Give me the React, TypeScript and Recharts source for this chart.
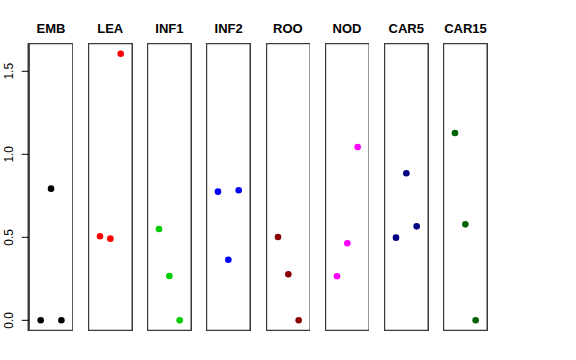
import React from "react";
import { ScatterChart, Scatter, XAxis, YAxis, ReferenceArea } from "recharts";

const tissues = ["EMB", "LEA", "INF1", "INF2", "ROO", "NOD", "CAR5", "CAR15"];
const tissueColors = [
  "#000000", // black
  "#ff0000", // red
  "#00cd00", // green3
  "#0000ff", // blue
  "#8b0000", // darkred
  "#ff00ff", // magenta
  "#000080", // navy
  "#006400", // darkgreen
];

// three replicates per tissue, plotted at x = 1, 2, 3
const embValues = [0, 0.793, 0];
const leaValues = [0.506, 0.492, 1.606];
const inf1Values = [0.55, 0.267, 0];
const inf2Values = [0.775, 0.365, 0.783];
const rooValues = [0.502, 0.277, 0];
const nodValues = [0.265, 0.464, 1.044];
const car5Values = [0.498, 0.886, 0.566];
const car15Values = [1.128, 0.578, 0];

const yTicks = [0, 0.5, 1, 1.5];

const allValues = [
  embValues,
  leaValues,
  inf1Values,
  inf2Values,
  rooValues,
  nodValues,
  car5Values,
  car15Values,
];

// R style axis extension (4% on each side)
const yMax = Math.max(...allValues.flat());
const yDomain: [number, number] = [-0.04 * yMax, yMax * 1.04];
const xDomain: [number, number] = [-0.16, 4.16];

const PANEL_LEFT = 28.7;
const PANEL_STEP = 59.2;
const PANEL_W = 44.7;
const PANEL_TOP = 43;
const PANEL_H = 288;
const AXIS_W = 28.7;
const FONT = "'Liberation Sans', Arial, Helvetica, sans-serif";

function YTick(props: any) {
  const { x, y, payload } = props;
  return (
    <text
      transform={`translate(${x - 6.5}, ${y}) rotate(-90)`}
      textAnchor="middle"
      fontSize={12}
      fontFamily={FONT}
      fill="#000"
    >
      {Number(payload.value).toFixed(1)}
    </text>
  );
}

function Panel({ index }: { index: number }) {
  const withAxis = index === 0;
  const color = tissueColors[index];
  const data = allValues[index].map((v, i) => ({ x: i + 1, y: v }));
  const left = PANEL_LEFT + index * PANEL_STEP - (withAxis ? AXIS_W : 0);
  return (
    <>
      <div
        style={{
          position: "absolute",
          left: PANEL_LEFT + index * PANEL_STEP,
          top: 20,
          width: PANEL_W,
          textAlign: "center",
          fontFamily: FONT,
          fontWeight: "bold",
          fontSize: 13,
          lineHeight: "18px",
        }}
      >
        {tissues[index]}
      </div>
      <div style={{ position: "absolute", left, top: PANEL_TOP }}>
        <ScatterChart
          width={PANEL_W + (withAxis ? AXIS_W : 0)}
          height={PANEL_H}
          margin={{ top: 0, right: 0, bottom: 0, left: 0 }}
        >
          <XAxis
            type="number"
            dataKey="x"
            domain={xDomain}
            allowDataOverflow
            hide
          />
          <YAxis
            type="number"
            dataKey="y"
            domain={yDomain}
            allowDataOverflow
            hide={!withAxis}
            width={AXIS_W}
            ticks={yTicks}
            interval={0}
            axisLine={false}
            tickSize={7}
            tickLine={{ stroke: "#000" }}
            tick={<YTick />}
          />
          {/* panel box; the plot clip keeps only the inner half of the stroke */}
          <ReferenceArea
            x1={xDomain[0]}
            x2={xDomain[1]}
            y1={yDomain[0]}
            y2={yDomain[1]}
            fill="none"
            fillOpacity={0}
            stroke="#3a3a3a"
            strokeOpacity={1}
            strokeWidth={2.4}
            ifOverflow="visible"
          />
          <Scatter
            data={data}
            isAnimationActive={false}
            shape={(p: any) => (
              <circle cx={p.cx} cy={p.cy} r={3.3} fill={color} />
            )}
          />
        </ScatterChart>
      </div>
    </>
  );
}

export default function App() {
  return (
    <div
      style={{
        position: "absolute",
        left: 0,
        top: 0,
        width: 576,
        height: 360,
        background: "#fff",
      }}
    >
      {tissues.map((t, i) => (
        <Panel key={t} index={i} />
      ))}
    </div>
  );
}
